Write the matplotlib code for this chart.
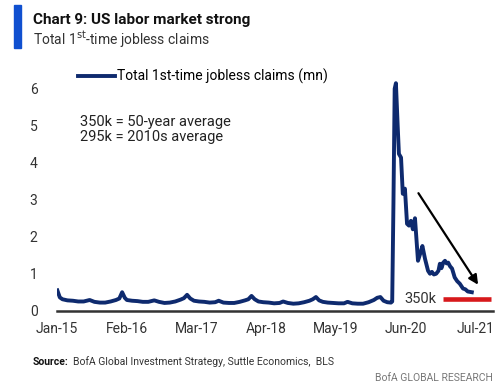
import matplotlib
matplotlib.use("Agg")
from matplotlib import pyplot as plt
import numpy as np
import pandas as pd

plt.rcParams['font.family'] = ['Roboto', 'DejaVu Sans']

# weekly-ish readings of total 1st-time jobless claims (mn)
dates = [
    "2015-01-03", "2015-01-17", "2015-02-01", "2015-03-01", "2015-04-01", "2015-05-01",
    "2015-06-01", "2015-07-05", "2015-08-01", "2015-09-01", "2015-10-01", "2015-11-01",
    "2015-12-01", "2015-12-20",
    "2016-01-05", "2016-01-20", "2016-02-01", "2016-03-01", "2016-04-01", "2016-05-01",
    "2016-06-01", "2016-07-05", "2016-08-01", "2016-09-01", "2016-10-01", "2016-11-01",
    "2016-12-01", "2016-12-20",
    "2017-01-07", "2017-01-25", "2017-02-15", "2017-03-15", "2017-04-15", "2017-05-15",
    "2017-06-15", "2017-07-05", "2017-08-01", "2017-09-01", "2017-10-01", "2017-11-01",
    "2017-12-01", "2017-12-20",
    "2018-01-07", "2018-01-25", "2018-02-15", "2018-03-15", "2018-04-15", "2018-05-15",
    "2018-06-15", "2018-07-05", "2018-08-01", "2018-09-01", "2018-10-01", "2018-11-01",
    "2018-12-01", "2018-12-20",
    "2019-01-07", "2019-01-25", "2019-02-15", "2019-03-15", "2019-04-15", "2019-05-15",
    "2019-06-15", "2019-07-05", "2019-08-01", "2019-09-01", "2019-10-01", "2019-11-01",
    "2019-12-01", "2019-12-20",
    "2020-01-07", "2020-01-25", "2020-02-15", "2020-03-07", "2020-03-14", "2020-03-21",
    "2020-03-28", "2020-04-04", "2020-04-14", "2020-04-21", "2020-05-03", "2020-05-13",
    "2020-05-25", "2020-06-06", "2020-06-17", "2020-06-28", "2020-07-09", "2020-07-21",
    "2020-08-07", "2020-08-20", "2020-09-01", "2020-09-16", "2020-10-03", "2020-10-14",
    "2020-10-25", "2020-11-05", "2020-11-18", "2020-12-01", "2020-12-09", "2020-12-18",
    "2020-12-28", "2021-01-07", "2021-01-16", "2021-01-25", "2021-02-05", "2021-02-16",
    "2021-03-03", "2021-03-17", "2021-04-01", "2021-04-19", "2021-05-02", "2021-05-16",
    "2021-06-08",
]
claims = [
    0.55, 0.36, 0.31, 0.28, 0.27, 0.25,
    0.25, 0.29, 0.24, 0.22, 0.22, 0.25,
    0.29, 0.33,
    0.50, 0.35, 0.29, 0.27, 0.26, 0.24,
    0.24, 0.28, 0.24, 0.21, 0.22, 0.25,
    0.30, 0.34,
    0.43, 0.33, 0.27, 0.25, 0.24, 0.22,
    0.23, 0.27, 0.22, 0.21, 0.21, 0.24,
    0.28, 0.31,
    0.40, 0.31, 0.25, 0.23, 0.22, 0.20,
    0.21, 0.25, 0.21, 0.19, 0.20, 0.23,
    0.27, 0.31,
    0.37, 0.28, 0.24, 0.22, 0.21, 0.20,
    0.20, 0.24, 0.20, 0.19, 0.19, 0.23,
    0.29, 0.35,
    0.37, 0.27, 0.23, 0.22, 0.25, 2.90,
    6.00, 6.15, 5.00, 4.24, 4.14, 3.16,
    3.30, 2.35, 2.30, 2.43, 2.20, 2.50,
    1.35, 1.55, 1.75, 1.40, 1.08, 1.00,
    1.05, 0.98, 1.00, 1.08, 1.27, 1.15,
    1.30, 1.35, 1.28, 1.30, 1.20, 1.14,
    0.90, 0.80, 0.73, 0.60, 0.58, 0.52,
    0.50,
]

tick_dates = ["2015-01-01", "2016-02-01", "2017-03-01", "2018-04-01",
              "2019-05-01", "2020-06-01", "2021-07-01"]
tick_labels = ["Jan-15", "Feb-16", "Mar-17", "Apr-18", "May-19", "Jun-20", "Jul-21"]

avg_label = "350k"
avg_value = 0.31
avg_span = ["2020-12-28", "2021-09-25"]

arrow_from = ("2020-08-01", 3.24)
arrow_to = ("2021-07-22", 0.64)

navy = '#0E2A6E'
red = '#D7191C'

fig = plt.figure(figsize=(5.0, 3.86), dpi=100)
ax = fig.add_axes([0.114, 0.195, 0.872, 0.623])

x = pd.to_datetime(dates)
ax.plot(x, claims, color=navy, lw=2.8, solid_joinstyle='round', label='Total 1st-time jobless claims (mn)')

span = pd.to_datetime(avg_span)
ax.plot(span, [avg_value, avg_value], color=red, lw=3.3, solid_capstyle='butt')
ax.text(span[0] - pd.Timedelta(days=40), avg_value, avg_label, ha='right', va='center',
        fontsize=10.5, color='#333333')

ax.annotate('', xy=(pd.Timestamp(arrow_to[0]), arrow_to[1]),
            xytext=(pd.Timestamp(arrow_from[0]), arrow_from[1]),
            arrowprops=dict(arrowstyle='-|>', color='black', lw=1.6, mutation_scale=14))

ax.set_xlim(pd.Timestamp("2015-01-01"), pd.Timestamp("2021-10-06"))
ax.set_ylim(0, 6.5)
ax.set_yticks(range(0, 7))
ax.set_xticks(pd.to_datetime(tick_dates))
ax.set_xticklabels(tick_labels)
ax.tick_params(axis='both', length=0, labelsize=10, colors='#333333')
ax.tick_params(axis='y', pad=14)
ax.tick_params(axis='x', pad=8)

for side in ['top', 'right', 'left']:
    ax.spines[side].set_visible(False)
ax.spines['bottom'].set_color('#333333')
ax.spines['bottom'].set_linewidth(1.8)

ax.legend(loc='upper left', bbox_to_anchor=(0.035, 1.03), frameon=False, fontsize=10,
          handlelength=2.7, handletextpad=0.15, borderaxespad=0)

ax.text(0.053, 0.815, "350k = 50-year average\n295k = 2010s average", transform=ax.transAxes,
        fontsize=10.5, color='#222222', va='top', ha='left', linespacing=1.15)

# header
fig.patches.append(plt.Rectangle((14 / 500, 1 - 48 / 386), 7 / 500, 43 / 386,
                                 transform=fig.transFigure, color='#1050D0'))
fig.text(33 / 500, 1 - 20 / 386, "Chart 9: US labor market strong", fontsize=11,
         fontweight='bold', color='#111111', va='center', ha='left')
fig.text(33 / 500, 1 - 40 / 386, r"Total 1$^{\mathrm{st}}$-time jobless claims", fontsize=10,
         color='#333333', va='center', ha='left')

fig.text(33 / 500, 1 - 362 / 386, "Source:", fontsize=7.5, fontweight='bold',
         color='#111111', va='center', ha='left')
fig.text(73 / 500, 1 - 362 / 386, "BofA Global Investment Strategy, Suttle Economics,  BLS",
         fontsize=7.5, color='#333333', va='center', ha='left')
fig.text(493 / 500, 1 - 378 / 386, "BofA GLOBAL RESEARCH", fontsize=7.5, color='#777777',
         va='center', ha='right')

fig.savefig("out.png", dpi=100)
